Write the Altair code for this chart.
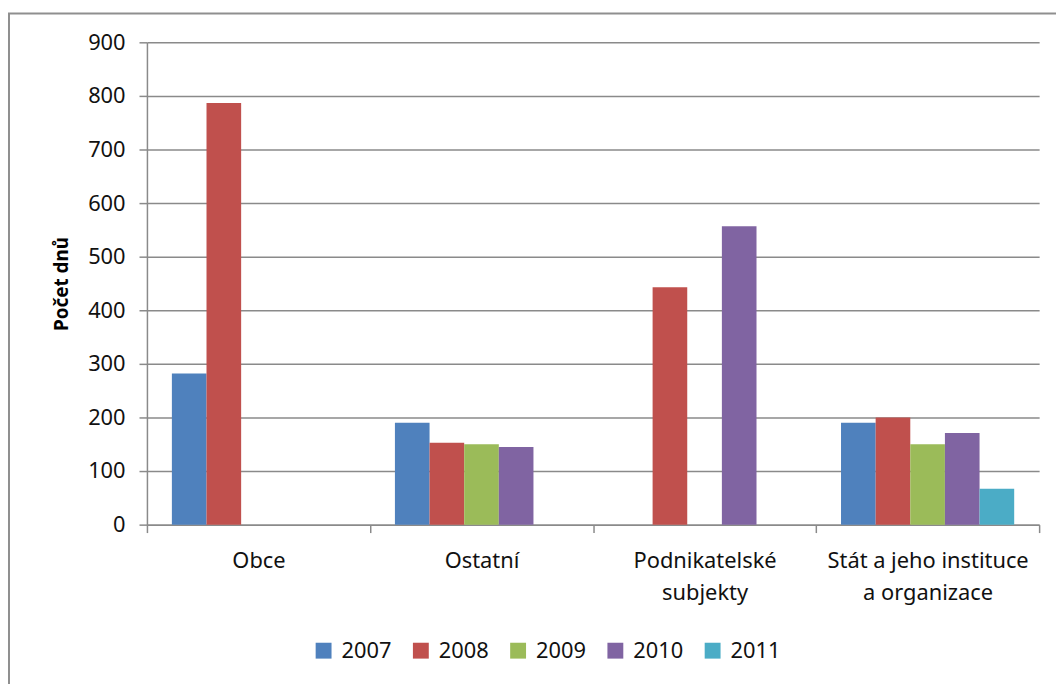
import altair as alt
import pandas as pd

categories = ["Obce", "Ostatní", "Podnikatelské\nsubjekty", "Stát a jeho instituce\na organizace"]
years = ["2007", "2008", "2009", "2010", "2011"]
colors = ["#4F81BD", "#C0504D", "#9BBB59", "#8064A2", "#4BACC6"]

v2007 = [282, 190, None, 190]
v2008 = [787, 153, 443, 200]
v2009 = [None, 150, None, 150]
v2010 = [None, 145, 557, 171]
v2011 = [None, None, None, 67]

series = {"2007": v2007, "2008": v2008, "2009": v2009, "2010": v2010, "2011": v2011}
rows = []
for y in years:
    for c, v in zip(categories, series[y]):
        if v is not None:
            rows.append({"kategorie": c, "rok": y, "pocet": v})
df = pd.DataFrame(rows)

FONT = "Noto Sans"
GRAY = "#8a8a8a"
W, H = 899, 486

bars = alt.Chart(df).mark_bar().encode(
    x=alt.X("kategorie:N", sort=categories,
            scale=alt.Scale(paddingInner=0, paddingOuter=0),
            axis=alt.Axis(title=None, labelAngle=0, tickBand="extent",
                          labelExpr="split(datum.label, '\\n')", labelLimit=0,
                          labelFontSize=22, labelFont=FONT, labelColor="#111",
                          labelPadding=18, labelLineHeight=32,
                          tickSize=8, tickColor=GRAY, tickWidth=1.5,
                          domainColor=GRAY, domainWidth=1.5, grid=False)),
    xOffset=alt.XOffset("rok:N", sort=years,
                        scale=alt.Scale(domain=years, paddingInner=0, paddingOuter=0.72)),
    y=alt.Y("pocet:Q",
            scale=alt.Scale(domain=[0, 900], nice=False),
            axis=alt.Axis(title="Počet dnů", values=list(range(0, 1000, 100)),
                          titleFont=FONT, titleFontSize=19, titleFontWeight="bold",
                          titleColor="#000", titlePadding=16,
                          labelFontSize=22, labelFont=FONT, labelColor="#111",
                          labelPadding=14, tickSize=8, tickColor=GRAY, tickWidth=1.5,
                          domainColor=GRAY, domainWidth=1.5,
                          gridColor=GRAY, gridWidth=1.5)),
    color=alt.Color("rok:N", sort=years,
                    scale=alt.Scale(domain=years, range=colors),
                    legend=alt.Legend(title=None, orient="none", direction="horizontal",
                                      legendX=167, legendY=602, padding=0,
                                      symbolType="square", symbolSize=256,
                                      symbolStrokeWidth=0, labelFont=FONT,
                                      labelFontSize=22, labelColor="#111",
                                      labelOffset=7, columnPadding=18)),
)

border = alt.Chart(pd.DataFrame({"k": [0]})).mark_rect(
    fill=None, stroke="#8f8f8f", strokeWidth=2
).encode(x=alt.value(-139), x2=alt.value(930), y=alt.value(-29), y2=alt.value(700))

chart = alt.layer(border, bars).properties(
    width=W, height=H,
    padding={"left": 140, "top": 32, "right": 17, "bottom": 158},
    autosize=alt.AutoSizeParams(type="none"),
    background="white",
).configure_view(stroke=None)

chart.save("out.html", embed_options={"renderer": "svg", "actions": False})
